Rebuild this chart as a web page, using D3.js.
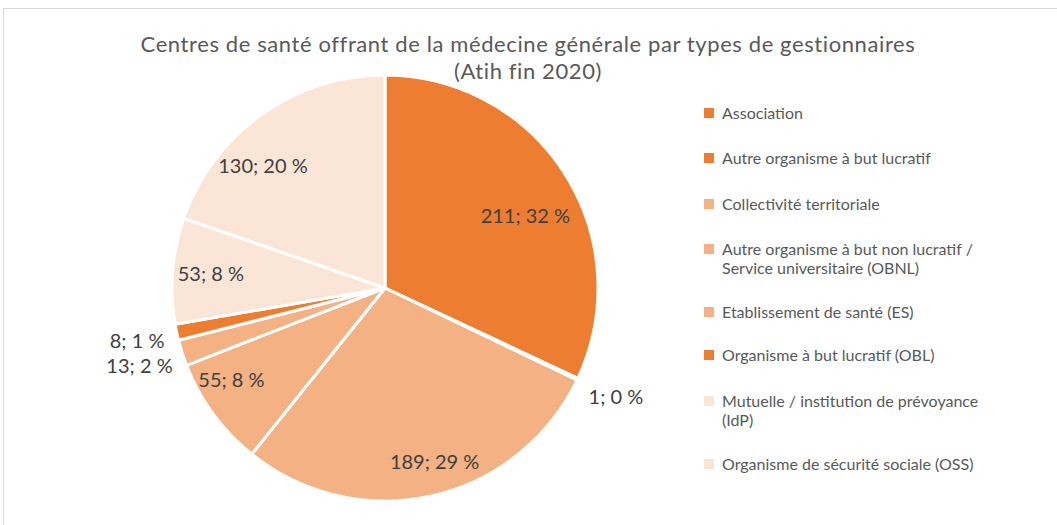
<!DOCTYPE html>
<html>
<head>
<meta charset="utf-8">
<script src="https://cdn.jsdelivr.net/npm/d3@7"></script>
<style>
  body { margin: 0; background: #fff; }
  svg { font-family: Lato, "Open Sans", sans-serif; }
</style>
</head>
<body>
<div id="chart"></div>
<script>
// Data
const categories = [
  "Association",
  "Autre organisme à but lucratif",
  "Collectivité territoriale",
  "Autre organisme à but non lucratif / Service universitaire (OBNL)",
  "Etablissement de santé (ES)",
  "Organisme à but lucratif (OBL)",
  "Mutuelle / institution de prévoyance (IdP)",
  "Organisme de sécurité sociale (OSS)"
];
const values = [211, 1, 189, 55, 13, 8, 53, 130];
const percents = [32, 0, 29, 8, 2, 1, 8, 20];
const colors = ["#ED7D31", "#ED7D31", "#F4B183", "#F4B183", "#F4B183", "#ED7D31", "#FBE5D6", "#FBE5D6"];
const legendLines = [
  ["Association"],
  ["Autre organisme à but lucratif"],
  ["Collectivité territoriale"],
  ["Autre organisme à but non lucratif /", "Service universitaire (OBNL)"],
  ["Etablissement de santé (ES)"],
  ["Organisme à but lucratif (OBL)"],
  ["Mutuelle / institution de prévoyance", "(IdP)"],
  ["Organisme de sécurité sociale (OSS)"]
];
// label placement: distance from centre (fraction of radius) and where in the slice's angle
const labelRadius = [0.74, 1.2, 0.85, 0.84, 1.21, 1.19, 0.82, 0.81];
const labelAngleFrac = [0.547, 0.5, 0.47, 0.68, 0.5, 0.5, 0.5, 0.365];

const W = 1057, H = 525;
const cx = 385, cy = 288, R = 213;

const svg = d3.select("#chart").append("svg")
  .attr("width", W).attr("height", H);

// Chart frame
svg.append("path")
  .attr("d", `M3.5,${H} L3.5,8.5 L${W},8.5`)
  .attr("fill", "none")
  .attr("stroke", "#d9d9d9")
  .attr("stroke-width", 1);

// Title
const title = svg.append("text")
  .attr("x", 528).attr("y", 52)
  .attr("text-anchor", "middle")
  .attr("fill", "#595959")
  .style("font-size", "22px")
  .style("letter-spacing", "0.6px");
title.append("tspan").attr("x", 528).text("Centres de santé offrant de la médecine générale par types de gestionnaires");
title.append("tspan").attr("x", 528).attr("dy", 27).text("(Atih fin 2020)");

// Pie
const pie = d3.pie().sort(null).startAngle(0).endAngle(2 * Math.PI)(values);
const arc = d3.arc().innerRadius(0).outerRadius(R);

const g = svg.append("g").attr("transform", `translate(${cx},${cy})`);

g.selectAll("path.slice")
  .data(pie)
  .join("path")
  .attr("class", "slice")
  .attr("d", arc)
  .attr("fill", (d, i) => colors[i])
  .attr("stroke", "#fff")
  .attr("stroke-width", 3)
  .attr("stroke-linejoin", "round");

// Data labels
const labelAngle = (d, i) => d.startAngle + (d.endAngle - d.startAngle) * labelAngleFrac[i];
g.selectAll("text.lbl")
  .data(pie)
  .join("text")
  .attr("class", "lbl")
  .attr("x", (d, i) => Math.sin(labelAngle(d, i)) * R * labelRadius[i])
  .attr("y", (d, i) => -Math.cos(labelAngle(d, i)) * R * labelRadius[i])
  .attr("dy", "0.35em")
  .attr("text-anchor", "middle")
  .attr("fill", "#404040")
  .style("font-size", "20px")
  .text((d, i) => `${values[i]}; ${percents[i]} %`);

// Legend
const legendY = [113, 158, 204, 249, 312, 355, 401, 464];
const legend = svg.append("g").attr("transform", "translate(704,0)");
categories.forEach((c, i) => {
  const row = legend.append("g").attr("transform", `translate(0,${legendY[i]})`);
  row.append("rect")
    .attr("x", 0).attr("y", -5)
    .attr("width", 10).attr("height", 10)
    .attr("fill", colors[i]);
  const t = row.append("text")
    .attr("x", 18).attr("y", 0)
    .attr("fill", "#595959")
    .style("font-size", "16px");
  legendLines[i].forEach((line, j) => {
    t.append("tspan").attr("x", 18).attr("dy", j === 0 ? "0.35em" : 19).text(line);
  });
});
</script>
</body>
</html>
